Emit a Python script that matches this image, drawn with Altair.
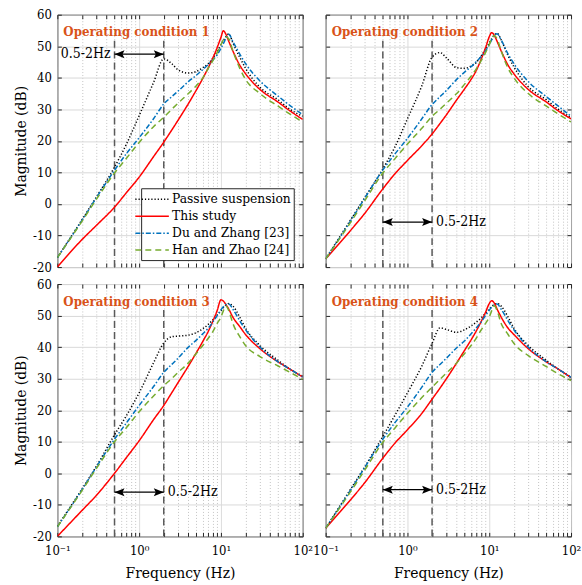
import altair as alt
import pandas as pd

FONT = "DejaVu Serif Condensed"

FREQ = [0.1, 0.2, 0.3, 0.5, 0.7, 1, 1.5, 2, 2.5, 3, 4, 5, 6, 7, 8, 9, 10,
        10.7, 11.5, 12.5, 14, 17, 20, 30, 50, 70, 100]

SERIES = ["Passive suspension", "This study", "Du and Zhang [23]", "Han and Zhao [24]"]
COLORS = ["#000000", "#FF0000", "#0072BD", "#77AC30"]
DASHES = [[1.2, 2], [1, 0], [5, 2, 1.5, 2], [6, 4]]

PANEL_TITLES = ["Operating condition 1", "Operating condition 2",
                "Operating condition 3", "Operating condition 4"]

PASSIVE = [
    [-17, -5, 2.2, 11.7, 19, 28, 38.5, 46, 44.5, 42.5, 41.5, 42, 43.2, 44.5, 46.3, 48.3, 50.5, 51.8, 53, 53.9, 51, 46.5, 43, 37, 33, 30, 27.8],
    [-17.4, -5.2, 2, 11.1, 18, 27, 37.5, 46.5, 48, 46.3, 43.2, 43, 43.7, 45, 47, 49, 51, 52.3, 53.5, 54.1, 52, 47, 43.5, 37.2, 33, 30, 27.3],
    [-16.8, -5, 2.2, 12.2, 18.3, 25.5, 35, 41.3, 43.3, 43.5, 43.8, 44.6, 45.8, 47.2, 48.7, 50.2, 51.5, 52.5, 53.3, 53.8, 53, 49.5, 46, 40.5, 35.8, 33, 30.8],
    [-17.4, -5.2, 2, 11.7, 18.3, 25.5, 34, 41.2, 46.1, 45.6, 44.7, 45.5, 46.7, 48, 49.3, 50.7, 52, 52.8, 53.5, 53.8, 53, 49.5, 46, 40.5, 35.8, 33, 30.5],
]
THIS_STUDY = [
    [-20, -11.3, -6.8, -1, 3.6, 8.5, 15, 19.6, 23.4, 26.6, 31.8, 36.1, 39.8, 43.2, 46.4, 49.6, 52.8, 54.9, 53.8, 51.5, 48.5, 44, 41.3, 36.3, 32.3, 29.5, 26.8],
    [-17.4, -8.5, -3, 4.8, 9.5, 13.8, 18.5, 22.2, 25.5, 28.3, 33, 36.5, 39.5, 42.5, 46, 49.5, 53, 54.3, 53.5, 51.5, 48.5, 44, 41.3, 36.3, 32.3, 29.5, 27],
    [-20, -11.8, -7, 0, 5, 10.3, 17, 21.5, 25.5, 28.8, 34, 38.2, 41.8, 45, 48.3, 51.6, 55, 54.6, 53.5, 52, 49.5, 46.5, 44, 39.5, 35.3, 33, 30.5],
    [-17.4, -8.5, -3, 4.8, 9.5, 13.8, 19, 23.5, 27, 30, 35, 39, 42.3, 45.3, 48.2, 51, 53.8, 54.7, 54, 52, 49.5, 46, 44, 39.5, 35.3, 33, 30.3],
]
DU_ZHANG = [
    [-17, -5.2, 2, 10.7, 16, 21, 27, 31.7, 34, 35.8, 38.8, 40.8, 42.6, 44.2, 45.7, 47.3, 49.3, 50.8, 52.5, 53.8, 51.5, 47.5, 44.5, 39, 34.2, 31.2, 28.3],
    [-17.4, -5.5, 1.8, 10.8, 15.8, 20.8, 27, 31.5, 34, 36, 39.5, 41.8, 43.5, 45.2, 46.8, 48.5, 50.5, 52, 53.5, 54, 52, 47.5, 44.5, 38.8, 34, 31, 27.8],
    [-17, -5.2, 2, 10.8, 16, 21.5, 27.5, 32, 34.5, 36.5, 40, 42.2, 44.2, 46, 48, 50, 51.8, 52.8, 53.5, 53.7, 52, 48.3, 45.5, 40, 35.3, 33, 30.5],
    [-17.4, -5.5, 1.8, 10.8, 16, 21, 27.3, 32, 34.5, 36.5, 39.8, 42, 44.2, 46.2, 48, 50, 51.7, 52.7, 53.4, 53.7, 52, 48.3, 45.5, 40, 35.3, 33, 30.4],
]
HAN_ZHAO = [
    [-17, -5.5, 1.5, 9.8, 14.5, 19.5, 24.5, 27.5, 30, 32, 35, 37.5, 40, 43, 45.5, 48, 50.5, 52, 53, 52.3, 48.5, 43, 39.5, 35, 31, 28.5, 26],
    [-17.4, -6, 1, 9.8, 14.3, 19, 24, 27.8, 30, 32, 35, 38, 40.5, 43, 45.5, 48, 50.5, 52.3, 53.4, 52.3, 48.5, 43, 40, 35, 31, 28.5, 26],
    [-17, -5.5, 1.5, 10, 14.5, 19.5, 24.5, 27.8, 30, 32, 35, 38, 40.5, 42.8, 45, 47.5, 49.5, 51.5, 53, 51.5, 47.5, 43.3, 40.5, 37, 34, 32, 29.8],
    [-17.4, -6, 1, 9.8, 14.3, 19, 24, 27.3, 29.8, 31.8, 35, 38, 40.5, 43, 45.5, 47.5, 49.5, 51.5, 53.1, 51.5, 47.5, 44, 41.2, 37.3, 33.8, 31.5, 29.4],
]

BAND = [0.5, 2.0]
BAND_BOTTOM = -20
BAND_TOP = 52
ARROW_Y = [47.5, -5.75, -6.0, -5.2]
ARROW_LABEL = "0.5-2Hz"
ARROW_LABEL_SIDE = ["left", "right", "right", "right"]
TITLE_Y = 54.4

X_MAJOR = [0.1, 1, 10, 100]
X_TICK_LABELS = ["10⁻¹", "10⁰", "10¹", "10²"]
X_MINOR = [0.2, 0.3, 0.4, 0.5, 0.6, 0.7, 0.8, 0.9,
           2, 3, 4, 5, 6, 7, 8, 9,
           20, 30, 40, 50, 60, 70, 80, 90]
Y_TICKS = [-20, -10, 0, 10, 20, 30, 40, 50, 60]

ALL_X = sorted(X_MAJOR + X_MINOR)
MAJOR_TEST = "indexof([" + ",".join(str(v) for v in X_MAJOR) + "], datum.value) >= 0"
LABEL_EXPR = " : ".join(f"datum.value == {v} ? '{l}'" for v, l in zip(X_MAJOR, X_TICK_LABELS)) + " : ''"

LEFT_HEAD = "M0,0L2,-0.8L1.6,0L2,0.8Z"
RIGHT_HEAD = "M0,0L-2,-0.8L-1.6,0L-2,0.8Z"

LEGEND = alt.Legend(
    title=None, orient="none", legendX=84, legendY=174, direction="vertical",
    symbolType="M-2.4,0H2.4", symbolSize=196, symbolStrokeWidth=1.5,
    labelFont=FONT, labelFontSize=13.7, labelColor="black", labelOffset=12,
    rowPadding=2, padding=3, strokeColor="#262626", fillColor="white",
    cornerRadius=0,
)


def make_panel(i):
    row, col = divmod(i, 2)
    records = []
    for s, vals in zip(SERIES, [PASSIVE[i], THIS_STUDY[i], DU_ZHANG[i], HAN_ZHAO[i]]):
        for f, v in zip(FREQ, vals):
            records.append({"series": s, "f": f, "db": v})
    df = pd.DataFrame(records)

    xs = alt.Scale(type="log", domain=[0.1, 100], nice=False)
    ys = alt.Scale(domain=[-20, 60], nice=False, zero=False)

    x_kwargs = dict(
        values=ALL_X, labelExpr=LABEL_EXPR, labels=(row == 1), grid=True,
        gridDash={"condition": {"test": MAJOR_TEST, "value": [1, 0]}, "value": [1, 2]},
        gridColor={"condition": {"test": MAJOR_TEST, "value": "#d9d9d9"}, "value": "#c4c4c4"},
        gridWidth=1, domain=False, offset=-4, tickSize=4, tickColor="#262626",
        labelFlush=False, labelOverlap=False, labelBound=False, labelPadding=8,
        titlePadding=8,
    )
    x_kwargs["title"] = "Frequency (Hz)" if row == 1 else None
    x_axis = alt.Axis(**x_kwargs)

    y_kwargs = dict(
        values=Y_TICKS, labelExpr="'' + datum.value", labels=(col == 0), grid=True,
        gridColor="#d9d9d9", gridWidth=1, domain=False, offset=-4, tickSize=4,
        tickColor="#262626", labelPadding=6, titlePadding=4,
    )
    y_kwargs["title"] = "Magnitude (dB)" if col == 0 else None
    y_axis = alt.Axis(**y_kwargs)

    lines = alt.Chart(df).mark_line(strokeWidth=1.5, clip=True, interpolate="monotone").encode(
        x=alt.X("f:Q", scale=xs, axis=x_axis),
        y=alt.Y("db:Q", scale=ys, axis=y_axis),
        color=alt.Color("series:N", scale=alt.Scale(domain=SERIES, range=COLORS), legend=LEGEND),
        strokeDash=alt.StrokeDash("series:N", scale=alt.Scale(domain=SERIES, range=DASHES), legend=LEGEND),
    )

    vdf = pd.DataFrame({"f": BAND, "y0": [BAND_BOTTOM] * 2, "y1": [BAND_TOP] * 2})
    vlines = alt.Chart(vdf).mark_rule(color="#5a5a5a", strokeWidth=1.5, strokeDash=[7, 4]).encode(
        x=alt.X("f:Q", scale=xs, axis=alt.Axis(orient="top", values=ALL_X, labels=False, grid=False,
                                                 domain=False, offset=-4, tickSize=4,
                                                 tickColor="#262626", title=None)),
        y=alt.Y("y0:Q", scale=ys, axis=alt.Axis(orient="right", values=Y_TICKS, labels=False, grid=False,
                                                  domain=False, offset=-4, tickSize=4,
                                                  tickColor="#262626", title=None)),
        y2="y1:Q",
    )

    adf = pd.DataFrame({"x0": [BAND[0]], "x1": [BAND[1]], "y": [ARROW_Y[i]]})
    shaft = alt.Chart(adf).mark_rule(color="black", strokeWidth=1.2).encode(
        x=alt.X("x0:Q", scale=xs, axis=None), x2="x1:Q",
        y=alt.Y("y:Q", scale=ys, axis=None),
    )
    head_l = alt.Chart(adf).mark_point(shape=LEFT_HEAD, size=100, filled=True, color="black",
                                       opacity=1, strokeWidth=0).encode(
        x=alt.X("x0:Q", scale=xs, axis=None), y=alt.Y("y:Q", scale=ys, axis=None))
    head_r = alt.Chart(adf).mark_point(shape=RIGHT_HEAD, size=100, filled=True, color="black",
                                       opacity=1, strokeWidth=0).encode(
        x=alt.X("x1:Q", scale=xs, axis=None), y=alt.Y("y:Q", scale=ys, axis=None))

    left_side = ARROW_LABEL_SIDE[i] == "left"
    ldf = pd.DataFrame({"x": [BAND[0] if left_side else BAND[1]], "y": [ARROW_Y[i]], "t": [ARROW_LABEL]})
    label = alt.Chart(ldf).mark_text(
        align="right" if left_side else "left", dx=-4 if left_side else 4, baseline="middle",
        font=FONT, fontSize=14, color="black",
    ).encode(x=alt.X("x:Q", scale=xs, axis=None), y=alt.Y("y:Q", scale=ys, axis=None), text="t:N")

    tdf = pd.DataFrame({"x": [X_MAJOR[0]], "y": [TITLE_Y], "t": [PANEL_TITLES[i]]})
    title = alt.Chart(tdf).mark_text(
        align="left", dx=6, baseline="middle", font=FONT, fontSize=13.2,
        fontWeight="bold", color="#D95319",
    ).encode(x=alt.X("x:Q", scale=xs, axis=None), y=alt.Y("y:Q", scale=ys, axis=None), text="t:N")

    return alt.layer(vlines, lines, shaft, head_l, head_r, label, title).resolve_axis(
        x="independent", y="independent"
    ).properties(width=246, height=253)


panels = [make_panel(i) for i in range(4)]

chart = alt.concat(*panels, columns=2, spacing={"row": 17, "column": 23}).properties(
    bounds="flush",
    padding={"left": 12.5, "top": 7, "right": 0, "bottom": 0},
).configure_view(
    stroke="black", strokeWidth=1
).configure_axis(
    labelFont=FONT, labelFontSize=13, labelColor="black",
    titleFont=FONT, titleFontSize=15.5, titleFontWeight="normal", titleColor="black",
)

chart.save("out.html", embed_options={"renderer": "svg", "actions": False})
